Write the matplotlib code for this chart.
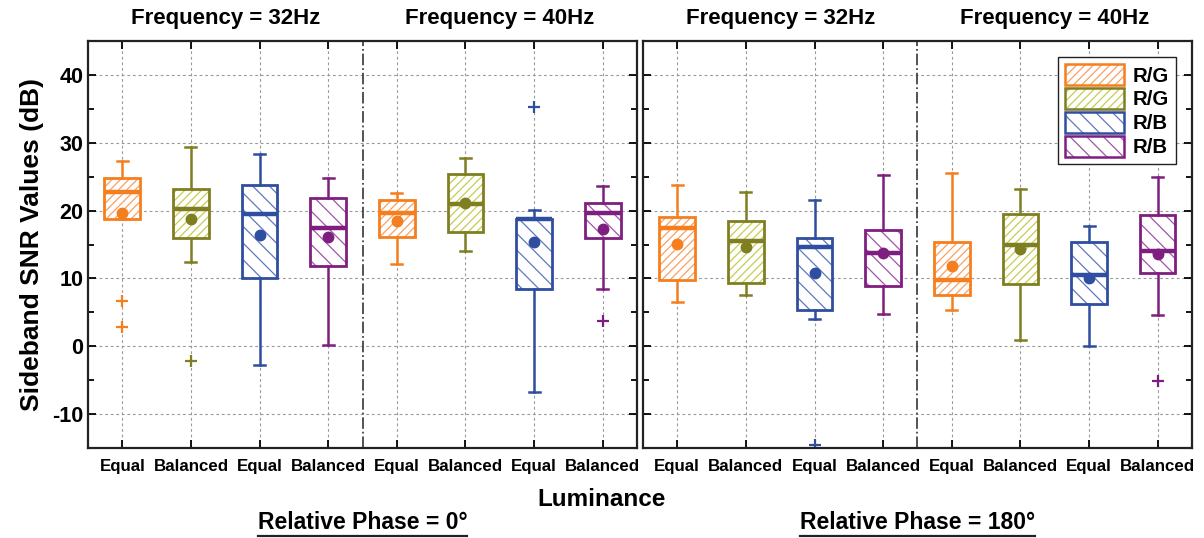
"""
Sideband SNR box plots: relative phase 0 vs 180 deg, two frequencies each.
"""

import matplotlib
matplotlib.use("Agg")  # headless
import matplotlib.pyplot as plt
from matplotlib.lines import Line2D
from matplotlib.patches import PathPatch, Patch, Rectangle
from matplotlib.ticker import MultipleLocator

plt.rcParams["font.family"] = ["Liberation Sans", "DejaVu Sans"]
plt.rcParams["font.weight"] = "bold"
plt.rcParams["hatch.linewidth"] = 0.9
plt.rcParams["axes.unicode_minus"] = False

# ---- data (dB), order per panel: 32Hz Equal/Balanced/Equal/Balanced, 40Hz same
LUMINANCE = ["Equal", "Balanced", "Equal", "Balanced"] * 2
FREQS = ["Frequency = 32Hz", "Frequency = 40Hz"]
PHASES = ["Relative Phase = 0°", "Relative Phase = 180°"]
LEGEND_LABELS = ["R/G", "R/G", "R/B", "R/B"]

# phase 0
p0_whislo = [18.8, 12.4, -2.8, 0.2, 12.1, 14.1, -6.7, 8.4]
p0_q1 = [18.8, 16.0, 10.0, 11.8, 16.1, 16.8, 8.5, 15.9]
p0_med = [22.7, 20.2, 19.5, 17.4, 19.6, 21.0, 18.7, 19.7]
p0_q3 = [24.8, 23.2, 23.7, 21.8, 21.5, 25.4, 18.8, 21.1]
p0_whishi = [27.3, 29.4, 28.4, 24.8, 22.6, 27.7, 20.1, 23.6]
p0_mean = [19.6, 18.7, 16.4, 16.1, 18.5, 21.1, 15.4, 17.3]
p0_fliers = [[6.7, 2.8], [-2.1], [], [], [], [], [35.2], [3.7]]

# phase 180
p180_whislo = [6.6, 7.5, 4.0, 4.8, 5.4, 0.9, 0.0, 4.6]
p180_q1 = [9.7, 9.3, 5.3, 8.9, 7.5, 9.2, 6.3, 10.8]
p180_med = [17.5, 15.5, 14.6, 13.7, 9.7, 15.0, 10.5, 14.0]
p180_q3 = [19.0, 18.5, 15.9, 17.1, 15.4, 19.5, 15.4, 19.4]
p180_whishi = [23.7, 22.7, 21.5, 25.3, 25.5, 23.2, 17.8, 25.0]
p180_mean = [15.1, 14.6, 10.8, 13.7, 11.8, 14.4, 10.0, 13.6]
p180_fliers = [[], [], [-14.5], [], [], [], [], [-5.1]]

# styles per luminance/colour slot
COLORS = ["#F57F1E", "#7F7F22", "#2F4EA0", "#7E1F80"]
HATCH_COLORS = ["#F8A060", "#C6CC50", "#5F78BE", "#A055A6"]
HATCHES = ["////", "////", "\\\\", "\\\\"]


def make_stats(whislo, q1, med, q3, whishi, mean, fliers):
    return [
        dict(whislo=a, q1=b, med=c, q3=d, whishi=e, mean=f, fliers=g)
        for a, b, c, d, e, f, g in zip(whislo, q1, med, q3, whishi, mean, fliers)
    ]


def draw_panel(ax, stats):
    pos = list(range(1, len(stats) + 1))
    for i, (st, p) in enumerate(zip(stats, pos)):
        k = i % 4
        c = COLORS[k]
        res = ax.bxp(
            [st], positions=[p], widths=0.52, patch_artist=True,
            showmeans=True, capwidths=0.16,
            boxprops=dict(facecolor="white", edgecolor=HATCH_COLORS[k],
                          hatch=HATCHES[k], linewidth=0),
            medianprops=dict(color=c, linewidth=3.2),
            whiskerprops=dict(color=c, linewidth=1.8),
            capprops=dict(color=c, linewidth=1.8),
            meanprops=dict(marker="o", markerfacecolor=c, markeredgecolor=c,
                           markersize=7.5),
            flierprops=dict(marker="+", markeredgecolor=c, markersize=8,
                            markeredgewidth=1.6),
            manage_ticks=False,
        )
        for box in res["boxes"]:
            ax.add_patch(PathPatch(box.get_path(), facecolor="none",
                                   edgecolor=c, linewidth=2, zorder=box.get_zorder() + 0.1))
        for med in res["medians"]:
            med.set_zorder(3)

    ax.set_xlim(0.5, 8.5)
    ax.set_ylim(-15, 45)
    ax.set_xticks(pos)
    ax.set_xticklabels(LUMINANCE, fontsize=12.2, fontweight="bold")
    ax.yaxis.set_major_locator(MultipleLocator(10))
    ax.yaxis.set_minor_locator(MultipleLocator(5))
    ax.tick_params(which="both", direction="in", top=True, right=True, width=1.3)
    ax.tick_params(which="major", length=6)
    ax.tick_params(which="minor", length=4)
    ax.tick_params(axis="x", pad=8)
    ax.grid(True, which="major", color="#999999", linestyle=(0, (2.5, 2.5)), linewidth=0.8)
    ax.set_axisbelow(True)
    for s in ax.spines.values():
        s.set_linewidth(1.6)
        s.set_color("#222222")
    ax.axvline(4.5, color="#444444", linestyle="-.", linewidth=1.3, zorder=1)
    for j, f in enumerate(FREQS):
        ax.text(2.5 + 4 * j, 1.028, f, transform=ax.get_xaxis_transform(),
                ha="center", va="bottom", fontsize=16, fontweight="bold")


def main() -> None:
    fig = plt.figure(figsize=(12.04, 5.38), dpi=100)
    ax0 = fig.add_axes([0.0731, 0.167, 0.456, 0.757])
    ax1 = fig.add_axes([0.534, 0.167, 0.456, 0.757])

    draw_panel(ax0, make_stats(p0_whislo, p0_q1, p0_med, p0_q3, p0_whishi, p0_mean, p0_fliers))
    draw_panel(ax1, make_stats(p180_whislo, p180_q1, p180_med, p180_q3, p180_whishi,
                               p180_mean, p180_fliers))

    ax0.tick_params(axis="y", labelsize=15.5)
    for t in ax0.get_yticklabels():
        t.set_fontweight("bold")
    ax1.set_yticklabels([])
    ax0.set_ylabel("Sideband SNR Values (dB)", fontsize=19, fontweight="bold", labelpad=6)

    # legend: hatch in light colour, border in main colour
    handles = [Patch(facecolor="white", edgecolor=hc, hatch=h, linewidth=0)
               for hc, h in zip(HATCH_COLORS, HATCHES)]
    leg = ax1.legend(handles, LEGEND_LABELS, loc="upper right", bbox_to_anchor=(0.971, 0.96),
                     borderaxespad=0, fontsize=14.7, handlelength=2.9, handleheight=1.2,
                     labelspacing=0.12, borderpad=0.35, handletextpad=0.4, fancybox=False,
                     framealpha=1, edgecolor="#222222")
    leg.get_frame().set_linewidth(1.0)
    for t in leg.get_texts():
        t.set_fontweight("bold")

    fig.text(0.5, 0.072, "Luminance", ha="center", va="center", fontsize=17.5, fontweight="bold")

    fig.canvas.draw()
    renderer = fig.canvas.get_renderer()
    # outline for legend patches in main colours
    for patch, c in zip(leg.get_patches(), COLORS):
        ext = patch.get_window_extent(renderer)
        fig.add_artist(Rectangle(
            (ext.x0, ext.y0), ext.width, ext.height, transform=None,
            facecolor="none", edgecolor=c, linewidth=1.8, zorder=10))

    # phase labels, underlined
    for ax, label in zip([ax0, ax1], PHASES):
        bb = ax.get_position()
        xc = (bb.x0 + bb.x1) / 2
        t = fig.text(xc, 0.028, label, ha="center", va="center", fontsize=16.5, fontweight="bold")
        ext = t.get_window_extent(renderer).transformed(fig.transFigure.inverted())
        fig.add_artist(Line2D([ext.x0, ext.x1], [ext.y0 - 0.003, ext.y0 - 0.003],
                              transform=fig.transFigure, color="#222222", linewidth=1.6))

    fig.savefig("out.png", dpi=100)


if __name__ == "__main__":
    main()
